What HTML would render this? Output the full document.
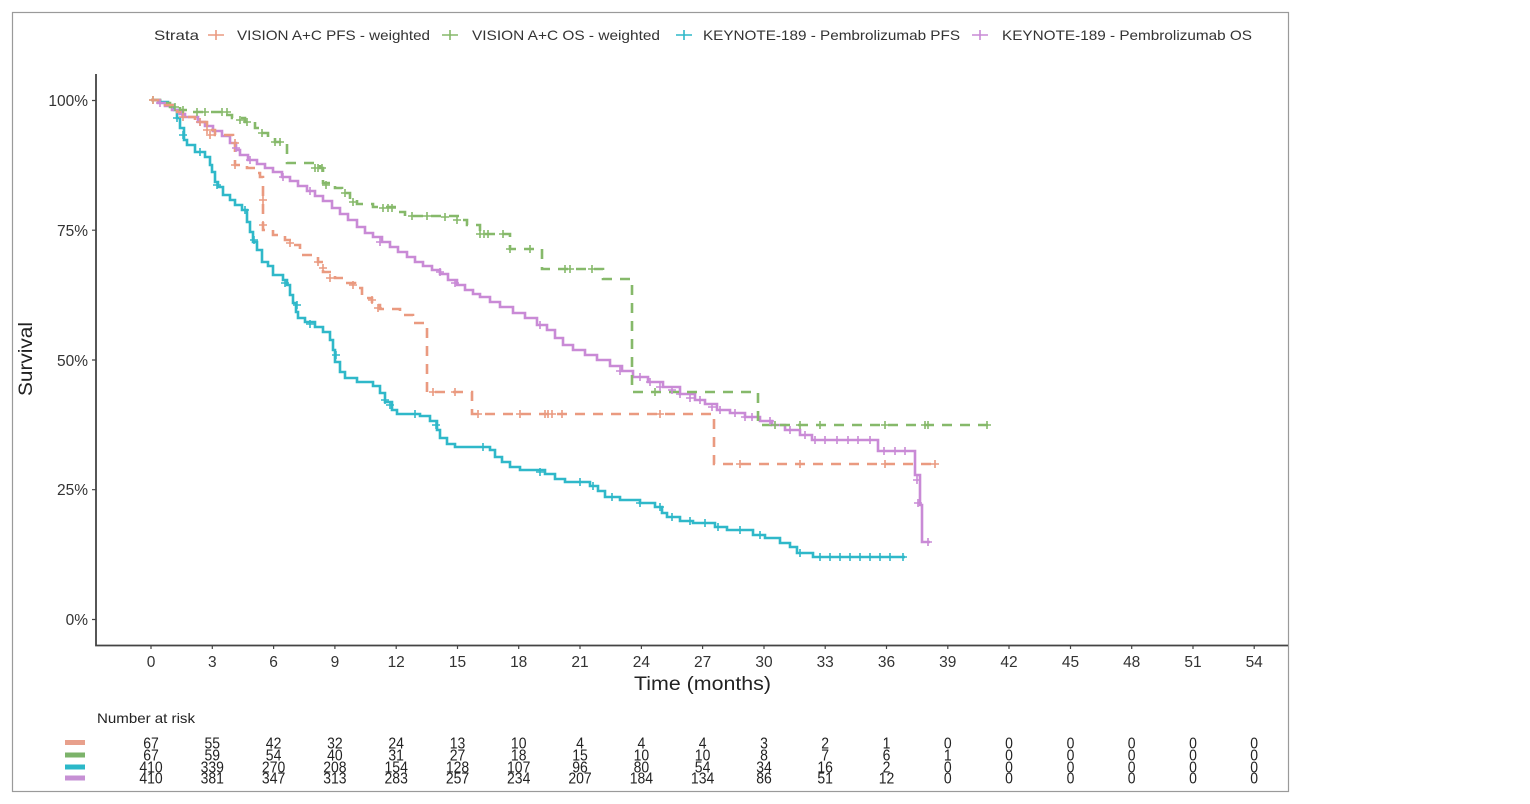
<!DOCTYPE html>
<html>
<head>
<meta charset="utf-8">
<style>
  html,body{margin:0;padding:0;background:#fff;}
  svg{display:block;}
  text{font-family:"Liberation Sans", Arial, sans-serif;}
</style>
</head>
<body>
<svg width="1530" height="804" viewBox="0 0 1530 804" xmlns="http://www.w3.org/2000/svg">
  <rect x="0" y="0" width="1530" height="804" fill="#fff"/>
  <!-- outer frame -->
  <rect x="12.5" y="12.5" width="1276" height="779" fill="none" stroke="#9a9a9a" stroke-width="1.2"/>

  <!-- legend -->
  <g font-size="14" fill="#333">
    <text x="154" y="40" textLength="45" lengthAdjust="spacingAndGlyphs">Strata</text>
    <path d="M208,35 h16 M216,30 v10" stroke="#ea9a80" stroke-width="1.6"/>
    <text x="237" y="40" textLength="193" lengthAdjust="spacingAndGlyphs">VISION A+C PFS - weighted</text>
    <path d="M442,35 h16 M450,30 v10" stroke="#86b96a" stroke-width="1.6"/>
    <text x="472" y="40" textLength="188" lengthAdjust="spacingAndGlyphs">VISION A+C OS - weighted</text>
    <path d="M676,35 h16 M684,30 v10" stroke="#2fb8c9" stroke-width="1.6"/>
    <text x="703" y="40" textLength="257" lengthAdjust="spacingAndGlyphs">KEYNOTE-189 - Pembrolizumab PFS</text>
    <path d="M972,35 h16 M980,30 v10" stroke="#c98ad6" stroke-width="1.6"/>
    <text x="1002" y="40" textLength="250" lengthAdjust="spacingAndGlyphs">KEYNOTE-189 - Pembrolizumab OS</text>
  </g>

  <!-- axes -->
  <path d="M96,74 V645.5 H1288" fill="none" stroke="#444" stroke-width="1.8"/>
  <!-- y ticks -->
  <g stroke="#444" stroke-width="1.2">
    <path d="M92,100.5 H96 M92,230.2 H96 M92,360 H96 M92,489.7 H96 M92,619.5 H96"/>
  </g>
  <g font-size="15.5" fill="#333" text-anchor="end">
    <text x="88" y="106">100%</text>
    <text x="88" y="236">75%</text>
    <text x="88" y="366">50%</text>
    <text x="88" y="495">25%</text>
    <text x="88" y="625">0%</text>
  </g>
  <!-- x ticks -->
  <g stroke="#444" stroke-width="1.2">
    <path d="M151,645 v4 M212.3,645 v4 M273.6,645 v4 M334.9,645 v4 M396.2,645 v4 M457.5,645 v4 M518.7,645 v4 M580,645 v4 M641.4,645 v4 M702.6,645 v4 M764,645 v4 M825.2,645 v4 M886.5,645 v4 M947.8,645 v4 M1009,645 v4 M1070.5,645 v4 M1131.7,645 v4 M1193,645 v4 M1254.2,645 v4"/>
  </g>
  <g font-size="15.5" fill="#333" text-anchor="middle">
    <text x="151" y="667">0</text>
    <text x="212.3" y="667">3</text>
    <text x="273.6" y="667">6</text>
    <text x="334.9" y="667">9</text>
    <text x="396.2" y="667">12</text>
    <text x="457.5" y="667">15</text>
    <text x="518.7" y="667">18</text>
    <text x="580" y="667">21</text>
    <text x="641.4" y="667">24</text>
    <text x="702.6" y="667">27</text>
    <text x="764" y="667">30</text>
    <text x="825.2" y="667">33</text>
    <text x="886.5" y="667">36</text>
    <text x="947.8" y="667">39</text>
    <text x="1009" y="667">42</text>
    <text x="1070.5" y="667">45</text>
    <text x="1131.7" y="667">48</text>
    <text x="1193" y="667">51</text>
    <text x="1254.2" y="667">54</text>
  </g>
  <text x="634" y="690" font-size="19" fill="#222" textLength="137" lengthAdjust="spacingAndGlyphs">Time (months)</text>
  <text transform="translate(32,396) rotate(-90)" font-size="19" fill="#222" textLength="74" lengthAdjust="spacingAndGlyphs">Survival</text>

  <!-- curves -->
  <g fill="none" stroke-width="2.6" stroke-linejoin="miter">
    <!-- Teal: KEYNOTE PFS -->
    <path stroke="#2fb8c9" d="M151,100 H160 V102 H168 V105 H174 V110 H177 V118 H180 V128 H184 V140 H187 V145 H195 V152 H205 V157 H210 V165 H212 V172 H215 V182 H218 V187 H223 V195 H230 V200 H235 V205 H242 V210 H247 V222 H250 V232 H253 V242 H257 V250 H262 V262 H268 V266 H273 V275 H283 V280 H287 V285 H290 V295 H293 V303 H296 V312 H298 V318 H305 V322 H315 V327 H323 V332 H330 V340 H333 V350 H335 V362 H340 V372 H345 V378 H357 V382 H373 V386 H380 V393 H385 V402 H392 V410 H397 V414 H420 V416 H430 V421 H437 V430 H440 V438 H447 V444 H455 V447 H490 V450 H495 V457 H502 V462 H510 V467 H520 V470 H545 V474 H555 V479 H565 V482 H590 V486 H598 V491 H605 V497 H620 V500 H640 V503 H655 V507 H662 V513 H667 V517 H680 V521 H693 V523 H715 V527 H727 V530 H753 V535 H765 V538 H780 V543 H790 V547 H797 V553 H813 V557 H905"/>
    <!-- Purple: KEYNOTE OS -->
    <path stroke="#c98ad6" d="M151,100 H158 V103 H165 V106 H172 V110 H180 V114 H185 V117 H198 V122 H205 V126 H213 V131 H222 V136 H230 V143 H236 V150 H240 V155 H248 V160 H257 V164 H265 V168 H273 V172 H282 V177 H290 V181 H298 V186 H307 V191 H315 V196 H323 V201 H332 V208 H340 V214 H348 V220 H357 V227 H365 V233 H373 V237 H382 V242 H390 V247 H398 V252 H407 V257 H415 V262 H423 V266 H432 V270 H440 V274 H448 V280 H457 V285 H465 V290 H473 V294 H480 V297 H490 V302 H500 V307 H513 V313 H525 V318 H537 V325 H547 V330 H555 V338 H563 V345 H573 V350 H585 V355 H597 V360 H610 V366 H622 V371 H633 V377 H648 V382 H663 V387 H680 V394 H695 V400 H705 V404 H717 V410 H730 V413 H745 V417 H760 V421 H772 V425 H785 V430 H800 V435 H812 V440 H878 V451 H915 V475 H920 V505 H922 V542 H930"/>
    <!-- Green: VISION OS -->
    <path stroke="#86b96a" stroke-dasharray="10 8" d="M151,100 H160 V103 H170 V107 H180 V110 H190 V112 H225 V115 H232 V118 H245 V122 H255 V128 H262 V133 H268 V138 H275 V142 H287 V163 H320 V168 H323 V183 H335 V188 H342 V193 H350 V200 H357 V204 H373 V207 H397 V212 H405 V216 H460 V220 H467 V225 H480 V234 H510 V249 H542 V269 H603 V279 H632 V392 H758 V425 H990"/>
    <!-- Orange: VISION PFS -->
    <path stroke="#ea9a80" stroke-dasharray="10 8" d="M151,100 H165 V105 H177 V112 H183 V117 H195 V122 H207 V130 H215 V135 H233 V140 H235 V165 H247 V168 H257 V173 H260 V177 H263 V230 H273 V235 H285 V240 H292 V245 H300 V255 H318 V262 H323 V272 H335 V278 H345 V283 H355 V288 H362 V298 H372 V305 H380 V309 H400 V315 H413 V323 H427 V392 H472 V414 H714 V464 H937"/>
  </g>

  <!-- censor marks -->
  <g fill="none" stroke-width="1.6">
    <path stroke="#2fb8c9" d="M173,118h8M177,114v8 M179,135h8M183,131v8 M196,152h8M200,148v8 M213,185h8M217,181v8 M241,210h8M245,206v8 M250,240h8M254,236v8 M281,283h8M285,279v8 M293,305h8M297,301v8 M306,324h8M310,320v8 M332,355h8M336,351v8 M381,400h8M385,396v8 M386,405h8M390,401v8 M411,414h8M415,410v8 M432,425h8M436,421v8 M479,447h8M483,443v8 M536,472h8M540,468v8 M576,482h8M580,478v8 M589,486h8M593,482v8 M608,497h8M612,493v8 M636,503h8M640,499v8 M656,507h8M660,503v8 M668,517h8M672,513v8 M686,521h8M690,517v8 M701,523h8M705,519v8 M714,527h8M718,523v8 M736,530h8M740,526v8 M756,535h8M760,531v8 M796,553h8M800,549v8 M816,557h8M820,553v8 M826,557h8M830,553v8 M836,557h8M840,553v8 M846,557h8M850,553v8 M856,557h8M860,553v8 M866,557h8M870,553v8 M876,557h8M880,553v8 M886,557h8M890,553v8 M899,557h8M903,553v8"/>
    <path stroke="#c98ad6" d="M156,103h8M160,99v8 M178,114h8M182,110v8 M196,122h8M200,118v8 M232,148h8M236,144v8 M246,160h8M250,156v8 M279,177h8M283,173v8 M306,191h8M310,187v8 M376,242h8M380,238v8 M436,272h8M440,268v8 M451,283h8M455,279v8 M536,325h8M540,321v8 M616,371h8M620,367v8 M636,377h8M640,373v8 M646,382h8M650,378v8 M656,387h8M660,383v8 M668,390h8M672,386v8 M676,394h8M680,390v8 M686,398h8M690,394v8 M696,400h8M700,396v8 M708,407h8M712,403v8 M716,410h8M720,406v8 M731,413h8M735,409v8 M741,417h8M745,413v8 M748,417h8M752,413v8 M766,421h8M770,417v8 M786,430h8M790,426v8 M801,435h8M805,431v8 M811,440h8M815,436v8 M821,440h8M825,436v8 M833,440h8M837,436v8 M844,440h8M848,436v8 M854,440h8M858,436v8 M866,440h8M870,436v8 M880,451h8M884,447v8 M891,451h8M895,447v8 M901,451h8M905,447v8 M913,480h8M917,476v8 M914,503h8M918,499v8 M924,542h8M928,538v8"/>
    <path stroke="#86b96a" d="M149,100h8M153,96v8 M171,107h8M175,103v8 M179,110h8M183,106v8 M193,112h8M197,108v8 M201,112h8M205,108v8 M218,112h8M222,108v8 M223,112h8M227,108v8 M236,120h8M240,116v8 M243,122h8M247,118v8 M258,133h8M262,129v8 M271,142h8M275,138v8 M276,142h8M280,138v8 M311,168h8M315,164v8 M314,168h8M318,164v8 M318,168h8M322,164v8 M322,185h8M326,181v8 M341,193h8M345,189v8 M349,202h8M353,198v8 M379,208h8M383,204v8 M384,208h8M388,204v8 M388,208h8M392,204v8 M408,216h8M412,212v8 M423,216h8M427,212v8 M441,217h8M445,213v8 M453,220h8M457,216v8 M476,234h8M480,230v8 M480,234h8M484,230v8 M484,234h8M488,230v8 M499,234h8M503,230v8 M506,249h8M510,245v8 M526,249h8M530,245v8 M561,269h8M565,265v8 M566,269h8M570,265v8 M588,269h8M592,265v8 M651,392h8M655,388v8 M771,425h8M775,421v8 M796,425h8M800,421v8 M816,425h8M820,421v8 M881,425h8M885,421v8 M921,425h8M925,421v8 M924,425h8M928,421v8 M983,425h8M987,421v8"/>
    <path stroke="#ea9a80" d="M149,100h8M153,96v8 M179,117h8M183,113v8 M196,122h8M200,118v8 M203,130h8M207,126v8 M206,135h8M210,131v8 M231,165h8M235,161v8 M231,143h8M235,139v8 M259,200h8M263,196v8 M259,225h8M263,221v8 M286,243h8M290,239v8 M314,262h8M318,258v8 M319,268h8M323,264v8 M326,278h8M330,274v8 M349,285h8M353,281v8 M368,300h8M372,296v8 M374,308h8M378,304v8 M429,392h8M433,388v8 M451,392h8M455,388v8 M474,414h8M478,410v8 M516,414h8M520,410v8 M541,414h8M545,410v8 M544,414h8M548,410v8 M548,414h8M552,410v8 M558,414h8M562,410v8 M656,414h8M660,410v8 M736,464h8M740,460v8 M796,464h8M800,460v8 M881,464h8M885,460v8 M931,464h8M935,460v8"/>
  </g>

  <!-- risk table -->
  <text x="97" y="723" font-size="14" fill="#222" textLength="98" lengthAdjust="spacingAndGlyphs">Number at risk</text>
  <rect x="65" y="740" width="20" height="5" fill="#e8a08c"/>
  <rect x="65" y="752.5" width="20" height="5" fill="#7cb36a"/>
  <rect x="65" y="764.5" width="20" height="5" fill="#2bb8c8"/>
  <rect x="65" y="775.5" width="20" height="5" fill="#c690d4"/>

  <g font-size="14" fill="#222" text-anchor="middle">
    <g transform="translate(0,748.5) scale(1,1.15)">
      <text x="151" y="0">67</text><text x="212.3" y="0">55</text><text x="273.6" y="0">42</text><text x="334.9" y="0">32</text><text x="396.2" y="0">24</text><text x="457.5" y="0">13</text><text x="518.7" y="0">10</text><text x="580" y="0">4</text><text x="641.4" y="0">4</text><text x="702.6" y="0">4</text><text x="764" y="0">3</text><text x="825.2" y="0">2</text><text x="886.5" y="0">1</text><text x="947.8" y="0">0</text><text x="1009" y="0">0</text><text x="1070.5" y="0">0</text><text x="1131.7" y="0">0</text><text x="1193" y="0">0</text><text x="1254.2" y="0">0</text>
    </g>
    <g transform="translate(0,760.5) scale(1,1.15)">
      <text x="151" y="0">67</text><text x="212.3" y="0">59</text><text x="273.6" y="0">54</text><text x="334.9" y="0">40</text><text x="396.2" y="0">31</text><text x="457.5" y="0">27</text><text x="518.7" y="0">18</text><text x="580" y="0">15</text><text x="641.4" y="0">10</text><text x="702.6" y="0">10</text><text x="764" y="0">8</text><text x="825.2" y="0">7</text><text x="886.5" y="0">6</text><text x="947.8" y="0">1</text><text x="1009" y="0">0</text><text x="1070.5" y="0">0</text><text x="1131.7" y="0">0</text><text x="1193" y="0">0</text><text x="1254.2" y="0">0</text>
    </g>
    <g transform="translate(0,772.5) scale(1,1.15)">
      <text x="151" y="0">410</text><text x="212.3" y="0">339</text><text x="273.6" y="0">270</text><text x="334.9" y="0">208</text><text x="396.2" y="0">154</text><text x="457.5" y="0">128</text><text x="518.7" y="0">107</text><text x="580" y="0">96</text><text x="641.4" y="0">80</text><text x="702.6" y="0">54</text><text x="764" y="0">34</text><text x="825.2" y="0">16</text><text x="886.5" y="0">2</text><text x="947.8" y="0">0</text><text x="1009" y="0">0</text><text x="1070.5" y="0">0</text><text x="1131.7" y="0">0</text><text x="1193" y="0">0</text><text x="1254.2" y="0">0</text>
    </g>
    <g transform="translate(0,783.5) scale(1,1.15)">
      <text x="151" y="0">410</text><text x="212.3" y="0">381</text><text x="273.6" y="0">347</text><text x="334.9" y="0">313</text><text x="396.2" y="0">283</text><text x="457.5" y="0">257</text><text x="518.7" y="0">234</text><text x="580" y="0">207</text><text x="641.4" y="0">184</text><text x="702.6" y="0">134</text><text x="764" y="0">86</text><text x="825.2" y="0">51</text><text x="886.5" y="0">12</text><text x="947.8" y="0">0</text><text x="1009" y="0">0</text><text x="1070.5" y="0">0</text><text x="1131.7" y="0">0</text><text x="1193" y="0">0</text><text x="1254.2" y="0">0</text>
    </g>
  </g>
</svg>
</body>
</html>
